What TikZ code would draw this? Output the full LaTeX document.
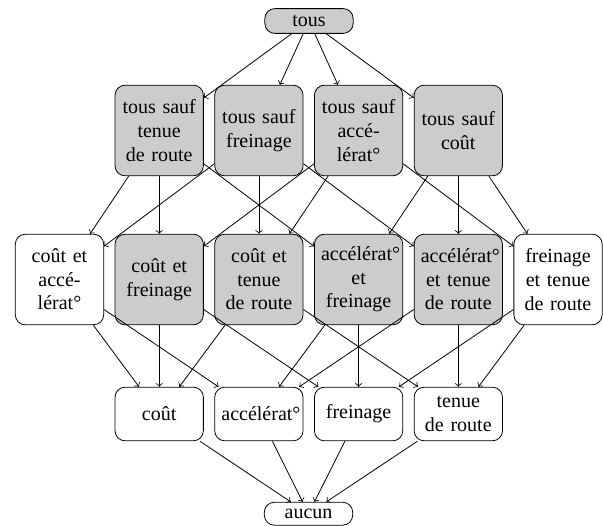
\documentclass[tikz,border=0pt]{standalone}
\usepackage{fontspec}
\setmainfont{Liberation Serif}
\newfontfamily\tnr{Liberation Serif}
\begin{document}
\begin{tikzpicture}[x=0.5pt,y=-0.5pt,
  box/.style={draw, rounded corners=5pt, text width=37.5pt, align=center, inner sep=3.33pt, line width=0.4pt, font=\tnr\fontsize{10}{11.8}\selectfont},
  gbox/.style={box, fill=black!20},
  tall/.style={minimum height=45.3pt},
  mid/.style={minimum height=26.8pt},
  arr/.style={->, line width=0.4pt}]
\useasboundingbox (0,0) rectangle (603,525);
% top / bottom
\node[gbox, minimum height=11.6pt] (tous) at (309,21) {tous};
\node[box, minimum height=11.4pt] (aucun) at (308.5,513.7) {aucun};
% row 1
\node[gbox, tall] (sT) at (159.2,130.5) {tous sauf\\tenue\\de route};
\node[gbox, tall] (sF) at (258.9,130.5) {tous sauf\\freinage};
\node[gbox, tall] (sA) at (358.6,130.5) {tous sauf\\accé-\\lérat°};
\node[gbox, tall] (sC) at (458.3,130.5) {tous sauf\\coût};
% row 2
\node[box, tall] (CA) at (59.5,279.5) {coût et\\accé-\\lérat°};
\node[gbox, tall] (CF) at (159.2,279.5) {coût et\\freinage};
\node[gbox, tall] (CT) at (258.9,279.5) {coût et\\tenue\\de route};
\node[gbox, tall] (AF) at (358.6,279.5) {accélérat°\\et\\freinage};
\node[gbox, tall] (AT) at (458.3,279.5) {accélérat°\\et tenue\\de route};
\node[box, tall] (FT) at (558,279.5) {freinage\\et tenue\\de route};
% row 3
\node[box, mid] (C) at (159.2,414) {coût};
\node[box, mid] (A) at (258.9,414) {accélérat°};
\node[box, mid] (F) at (358.6,414) {freinage};
\node[box, mid] (T) at (458.3,414) {tenue\\de route};
% edges
\foreach \b in {sT,sF,sA,sC} \draw[arr] (tous) -- (\b);
\foreach \b in {CA,CF,AF} \draw[arr] (sT) -- (\b);
\foreach \b in {CA,CT,AT} \draw[arr] (sF) -- (\b);
\foreach \b in {CF,CT,FT} \draw[arr] (sA) -- (\b);
\foreach \b in {AF,AT,FT} \draw[arr] (sC) -- (\b);
\foreach \a/\b in {CA/C,CA/A,CF/C,CF/F,CT/C,CT/T,AF/A,AF/F,AT/A,AT/T,FT/F,FT/T} \draw[arr] (\a) -- (\b);
\foreach \a in {C,A,F,T} \draw[arr] (\a) -- (aucun);
\end{tikzpicture}
\end{document}
